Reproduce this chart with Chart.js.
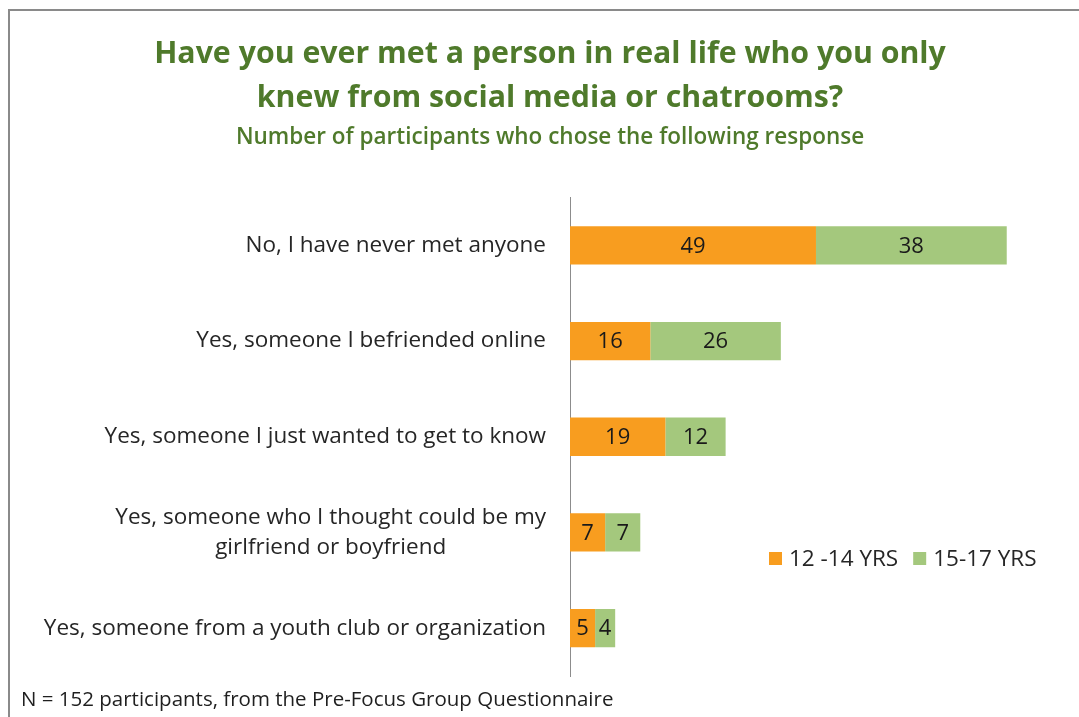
<!DOCTYPE html>
<html>
<head>
<meta charset="utf-8">
<script src="https://cdn.jsdelivr.net/npm/chart.js@4/dist/chart.umd.min.js"></script>
<style>
    html, body { margin: 0; padding: 0; background: #fff; overflow: hidden; }
    #frame {
        position: absolute; left: 8px; top: 9px; width: 1200px; height: 800px;
        border-top: 2px solid #8a8a8a; border-left: 2px solid #8a8a8a;
    }
    #wrap { position: absolute; left: 0; top: 0; width: 1079px; height: 717px; }
</style>
</head>
<body>
<div id="frame"></div>
<div id="wrap"><canvas id="chartMet"></canvas></div>
<script>
// Respostas e contagens por faixa etária
const respostas = [
    'No, I have never met anyone',
    'Yes, someone I befriended online',
    'Yes, someone I just wanted to get to know',
    ['Yes, someone who I thought could be my', 'girlfriend or boyfriend'],
    'Yes, someone from a youth club or organization'
];
const faixas = ['12 -14 YRS', '15-17 YRS'];
const valores12a14 = [49, 16, 19, 7, 5];
const valores15a17 = [38, 26, 12, 7, 4];

const FONTE = '"Open Sans", Lato, sans-serif';
const TEXTO = '#262626';
const VERDE_TITULO = '#4f7a2b';

/**
 * Rótulos do eixo Y: bloco alinhado à direita, linhas centralizadas entre si
 */
const rotulosEixoY = {
    id: 'rotulosEixoY',
    afterDraw(chart) {
        const { ctx, scales: { y } } = chart;
        ctx.save();
        ctx.font = '22.5px ' + FONTE;
        ctx.fillStyle = TEXTO;
        ctx.textAlign = 'center';
        ctx.textBaseline = 'middle';
        const direita = chart.chartArea.left - 24;
        const alturaLinha = 30;
        chart.data.labels.forEach((lbl, i) => {
            const linhas = Array.isArray(lbl) ? lbl : [lbl];
            const largura = Math.max(...linhas.map(l => ctx.measureText(l).width));
            const cx = direita - largura / 2;
            const yc = y.getPixelForTick(i);
            const topo = yc - (linhas.length - 1) * alturaLinha / 2;
            linhas.forEach((l, k) => ctx.fillText(l, cx, topo + k * alturaLinha));
        });
        ctx.restore();
    }
};

/**
 * Valores no centro de cada segmento
 */
const valoresNasBarras = {
    id: 'valoresNasBarras',
    afterDatasetsDraw(chart) {
        const { ctx } = chart;
        ctx.save();
        ctx.font = '22px ' + FONTE;
        ctx.fillStyle = '#1a1a1a';
        ctx.textAlign = 'center';
        ctx.textBaseline = 'middle';
        chart.data.datasets.forEach((ds, d) => {
            chart.getDatasetMeta(d).data.forEach((bar, i) => {
                const cx = (bar.x + bar.base) / 2;
                ctx.fillText(String(ds.data[i]), cx, bar.y + 1);
            });
        });
        ctx.restore();
    }
};

/**
 * Legenda dentro da área do gráfico + nota de rodapé
 */
const legendaERodape = {
    id: 'legendaERodape',
    afterDraw(chart) {
        const { ctx } = chart;
        ctx.save();
        ctx.font = '22.5px ' + FONTE;
        ctx.textBaseline = 'middle';
        ctx.textAlign = 'left';
        let x = 769;
        const yc = 559;
        chart.data.datasets.forEach(ds => {
            ctx.fillStyle = ds.backgroundColor;
            ctx.fillRect(x, yc - 7, 13, 13);
            ctx.fillStyle = TEXTO;
            ctx.fillText(ds.label, x + 20, yc + 1);
            x += 20 + ctx.measureText(ds.label).width + 15;
        });

        ctx.font = '20.5px ' + FONTE;
        ctx.fillStyle = '#1f1f1f';
        ctx.fillText('N = 152 participants, from the Pre-Focus Group Questionnaire', 21, 700);
        ctx.restore();
    }
};

const ctx = document.getElementById('chartMet');

new Chart(ctx, {
    type: 'bar',
    data: {
        labels: respostas,
        datasets: [
            {
                label: faixas[0],
                data: valores12a14,
                backgroundColor: '#f89d1f',
                borderWidth: 0
            },
            {
                label: faixas[1],
                data: valores15a17,
                backgroundColor: '#a4c87d',
                borderWidth: 0
            }
        ]
    },
    options: {
        indexAxis: 'y',
        responsive: true,
        maintainAspectRatio: false,
        animation: false,
        events: [],
        datasets: {
            bar: {
                categoryPercentage: 1,
                barPercentage: 0.4
            }
        },
        layout: {
            padding: { left: 28, right: 7, top: 0, bottom: 41 }
        },
        scales: {
            x: {
                stacked: true,
                min: 0,
                max: 100,
                display: false
            },
            y: {
                stacked: true,
                grid: { display: false, drawTicks: false },
                border: { display: true, color: '#8c8c8c', width: 1 },
                ticks: { display: false },
                afterFit(scale) {
                    scale.width = 542;
                }
            }
        },
        plugins: {
            legend: { display: false },
            tooltip: { enabled: false },
            title: {
                display: true,
                text: ['Have you ever met a person in real life who you only', 'knew from social media or chatrooms?'],
                color: VERDE_TITULO,
                font: { family: FONTE, size: 30.3, weight: 'bold', lineHeight: 1.46 },
                padding: { top: 32, bottom: 4 }
            },
            subtitle: {
                display: true,
                text: 'Number of participants who chose the following response',
                color: VERDE_TITULO,
                font: { family: FONTE, size: 22.5, weight: '600', lineHeight: 1.2 },
                padding: { top: 0, bottom: 46 }
            }
        }
    },
    plugins: [rotulosEixoY, valoresNasBarras, legendaERodape]
});
</script>
</body>
</html>
